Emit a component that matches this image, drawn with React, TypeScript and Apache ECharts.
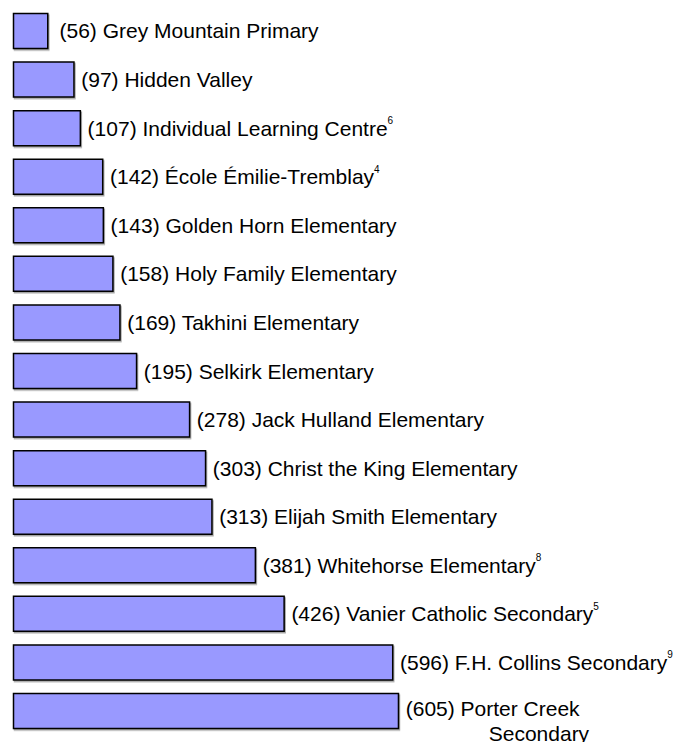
import React, { useEffect, useRef } from "react";
import * as echarts from "echarts";

const schools = [
  "Grey Mountain Primary",
  "Hidden Valley",
  "Individual Learning Centre",
  "École Émilie-Tremblay",
  "Golden Horn Elementary",
  "Holy Family Elementary",
  "Takhini Elementary",
  "Selkirk Elementary",
  "Jack Hulland Elementary",
  "Christ the King Elementary",
  "Elijah Smith Elementary",
  "Whitehorse Elementary",
  "Vanier Catholic Secondary",
  "F.H. Collins Secondary",
  "Porter Creek Secondary",
];
const enrolment = [56, 97, 107, 142, 143, 158, 169, 195, 278, 303, 313, 381, 426, 596, 605];
const footnotes = ["", "", "6", "4", "", "", "", "", "", "", "", "8", "5", "9", ""];

const FONT = "'Liberation Sans', Arial, Helvetica, sans-serif";

export default function App() {
  const ref = useRef<HTMLDivElement>(null);
  useEffect(() => {
    if (!ref.current) return;
    const chart = echarts.init(ref.current, undefined, { renderer: "svg" });
    const data = enrolment.map((v, i) => {
      const item: any = { value: v };
      if (i === 0) {
        item.label = { distance: 11 };
      }
      if (i === enrolment.length - 1) {
        item.label = {
          offset: [0, 9.5],
          formatter: () => {
            const words = schools[i].split(" ");
            const last = words.pop();
            return `{t|(${v}) ${words.join(" ")}}\n{ind|${last}}`;
          },
        };
      }
      return item;
    });
    chart.setOption({
      animation: false,
      backgroundColor: "#ffffff",
      grid: { left: 12.75, top: 6.7, width: 638.8, height: 728.6, containLabel: false },
      xAxis: {
        type: "value",
        min: 0,
        max: 1000,
        show: false,
      },
      yAxis: {
        type: "category",
        data: schools,
        inverse: true,
        show: false,
      },
      series: [
        {
          type: "bar",
          data,
          barWidth: 36.5,
          itemStyle: {
            color: "#9999ff",
            borderColor: "#000000",
            borderWidth: 1.5,
            shadowColor: "rgba(0,0,0,0.35)",
            shadowOffsetX: 1,
            shadowOffsetY: 1.5,
            shadowBlur: 0,
          },
          label: {
            show: true,
            position: "right",
            distance: 6.5,
            color: "#000000",
            fontFamily: FONT,
            fontSize: 21,
            formatter: (p: any) => {
              const fn = footnotes[p.dataIndex];
              return `{t|(${p.value}) ${p.name}}` + (fn ? `{sup|${fn}}` : "");
            },
            rich: {
              t: { fontFamily: FONT, fontSize: 21, color: "#000", lineHeight: 25 },
              sup: {
                fontFamily: FONT,
                fontSize: 10,
                color: "#000",
                verticalAlign: "top",
                lineHeight: 18,
              },
              ind: {
                fontFamily: FONT,
                fontSize: 21,
                color: "#000",
                lineHeight: 25,
                padding: [0, 0, 0, 83],
              },
            },
          },
        },
      ],
    });
    return () => chart.dispose();
  }, []);
  return (
    <div
      ref={ref}
      style={{ position: "absolute", left: 0, top: 0, width: 690, height: 742 }}
    />
  );
}
